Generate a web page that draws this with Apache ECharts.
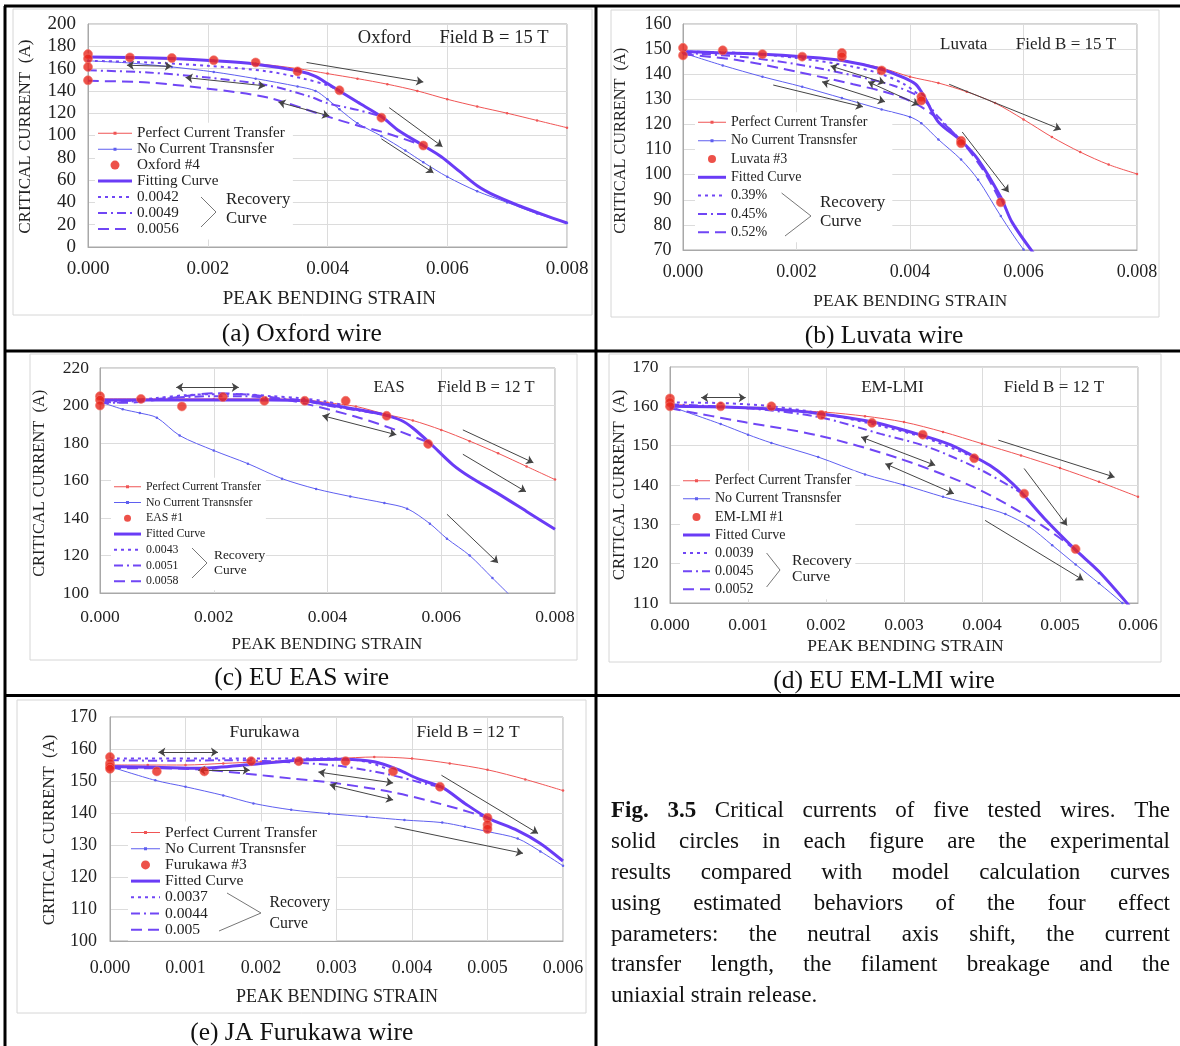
<!DOCTYPE html>
<html><head><meta charset="utf-8">
<script src="https://cdn.jsdelivr.net/npm/echarts@6/dist/echarts.min.js"></script>
<style>html,body{margin:0;padding:0;background:#fff}#c{width:1180px;height:1046px}</style>
</head><body><div id="c"></div><script>
const FONT = "'Liberation Serif','Times New Roman',serif";

// ---------------- (a) Oxford ----------------
const aLegend = ['Perfect Current Transfer','No Current Transnsfer','Oxford #4','Fitting Curve','0.0042','0.0049','0.0056'];
const aPerfect = [[0,170],[0.0007,169.5],[0.0014,168.5],[0.0021,167],[0.0028,164.5],[0.0035,160],[0.004,155.5],[0.0045,151],[0.005,146],[0.0055,140],[0.006,132.5],[0.0065,126],[0.007,120],[0.0075,113.5],[0.008,107]];
const aNoTransfer = [[0,167],[0.0007,165],[0.0014,161.5],[0.0021,157],[0.0028,151],[0.0035,144],[0.0038,140],[0.004,132.5],[0.0042,123.5],[0.0045,111],[0.0049,99.5],[0.0053,86.5],[0.0056,76],[0.006,63],[0.0065,50],[0.007,40],[0.0075,30],[0.008,21.5]];
const aFit = [[0,170.5],[0.0007,170],[0.0014,169],[0.0021,167],[0.0028,164],[0.0035,158],[0.0038,153],[0.004,146.5],[0.0042,140],[0.0045,130],[0.0049,117],[0.0052,104],[0.0056,91],[0.0059,81],[0.0062,68],[0.0065,55],[0.0068,46],[0.0072,37],[0.0076,29],[0.008,21.5]];
const aRec1 = [[0,167],[0.001,165.5],[0.002,162.5],[0.003,157.5],[0.0036,151],[0.004,145],[0.0042,140]];
const aRec2 = [[0,158.5],[0.001,156.5],[0.002,152],[0.003,145],[0.0037,135],[0.004,129],[0.0045,123],[0.0049,117]];
const aRec3 = [[0,149],[0.001,147.5],[0.002,142],[0.003,134],[0.004,117],[0.0045,109],[0.0049,103.5],[0.0056,91]];
const aData = [[0,173],[0,169],[0,161.5],[0,149.5],[0.0007,170],[0.0014,169.5],[0.0021,167.5],[0.0028,165.5],[0.0035,157.5],[0.0042,140.5],[0.0049,116],[0.0056,91]];
const aArrows = [[0.00365,165.5,0.0056,148,0],[0.00065,163,0.0014,162,1],[0.00163,152,0.00296,144.5,1],[0.00318,130,0.00403,117.5,1],[0.00503,125,0.00592,90,0],[0.0049,97,0.00577,66.5,0]];

// ---------------- (b) Luvata ----------------
const bLegend = ['Perfect Current Transfer','No Current Transnsfer','Luvata #3','Fitted Curve','0.39%','0.45%','0.52%'];
const bPerfect = [[0,149],[0.0007,148.5],[0.0014,148],[0.0021,147],[0.0028,145.5],[0.0035,142.5],[0.004,139],[0.0045,136.5],[0.005,133],[0.0055,128.5],[0.006,122],[0.0065,115],[0.007,109],[0.0075,104],[0.008,100.3]];
const bNoTransfer = [[0,148.5],[0.0007,143.5],[0.0014,139],[0.0021,135],[0.0028,130.5],[0.0035,126],[0.004,123],[0.0042,120.5],[0.0045,114],[0.0049,106],[0.0052,98],[0.0056,83.5],[0.006,70.2],[0.0062,66]];
const bFit = [[0,149],[0.0007,148.5],[0.0014,148],[0.0021,147],[0.0028,145.5],[0.0035,142],[0.0039,138.5],[0.0041,136],[0.0042,133],[0.0043,129],[0.0045,121],[0.0049,113.5],[0.0052,106],[0.0056,91],[0.0058,81],[0.0062,68]];
const bRec1 = [[0,149],[0.001,148.5],[0.002,146.5],[0.003,143],[0.0035,140],[0.0039,136],[0.0042,131]];
const bRec2 = [[0,148.5],[0.001,147],[0.002,144],[0.003,139.5],[0.0037,135.5],[0.0042,130.5],[0.0045,123],[0.0049,113.5]];
const bRec3 = [[0,148],[0.001,145.5],[0.002,141],[0.003,136],[0.0037,132],[0.0042,127],[0.0048,116],[0.0053,101.5],[0.0056,89]];
const bData = [[0,150.5],[0,147.5],[0.0007,149.5],[0.0014,148],[0.0021,147],[0.0028,148.5],[0.0028,147],[0.0035,141.5],[0.0042,131],[0.0042,129.5],[0.0049,113.5],[0.0049,112.5],[0.0056,89]];
const bArrows = [[0.00469,136,0.00666,118,0],[0.00492,117,0.00574,93,0],[0.0026,143.3,0.00356,136.5,1],[0.00326,137,0.00416,127.8,1],[0.00245,137,0.00356,129,1],[0.00159,135.7,0.00317,127,0]];

// ---------------- (c) EAS ----------------
const cLegend = ['Perfect Current Transfer','No Current Transnsfer','EAS #1','Fitted Curve','0.0043','0.0051','0.0058'];
const cPerfect = [[0,203.5],[0.001,203.5],[0.002,203.5],[0.003,203.5],[0.0036,203],[0.004,201.5],[0.0045,199.5],[0.005,195.5],[0.0055,192],[0.006,187],[0.0065,181],[0.007,174.5],[0.0075,167.5],[0.008,160.5]];
const cNoTransfer = [[0,202],[0.0004,198],[0.0007,196],[0.001,193.5],[0.0014,184],[0.002,176],[0.0026,169],[0.0032,161],[0.0038,155.5],[0.0044,151.5],[0.005,148],[0.0054,145],[0.0058,137],[0.0061,129],[0.0065,120],[0.0069,108],[0.0072,99]];
const cFit = [[0,203],[0.001,203],[0.002,203],[0.003,203],[0.0036,202.5],[0.004,200.5],[0.0045,198],[0.005,195],[0.0053,192],[0.0055,188],[0.0058,180],[0.0062,168.5],[0.0065,162],[0.007,153],[0.0075,143.5],[0.008,134]];
const cRec1 = [[0,202],[0.0005,202.5],[0.001,204],[0.0015,205.5],[0.002,206],[0.0025,206],[0.003,205],[0.0035,204],[0.004,202],[0.0043,200]];
const cRec2 = [[0,201],[0.0005,202],[0.001,203.5],[0.0015,204.5],[0.002,205],[0.0025,205],[0.003,204],[0.0035,203],[0.004,200],[0.0045,197.5],[0.0051,194.5]];
const cRec3 = [[0,202],[0.0005,201.5],[0.001,203],[0.0015,205],[0.002,206.5],[0.0025,206],[0.003,204.5],[0.0036,201],[0.0045,194],[0.0052,187],[0.0058,180]];
const cData = [[0,205],[0,203],[0,200],[0.00072,203.5],[0.00144,199.5],[0.00216,204.5],[0.00289,202.5],[0.0036,202.5],[0.00432,202.5],[0.00504,194.5],[0.00577,179.5]];
const cArrows = [[0.00638,187,0.00762,169.5,0],[0.00638,174,0.00749,154,0],[0.0061,142,0.007,116,0],[0.00134,209.7,0.00244,209.7,1],[0.00391,194.6,0.00521,184.4,1]];

// ---------------- (d) EM-LMI ----------------
const dLegend = ['Perfect Current Transfer','No Current Transnsfer','EM-LMI #1','Fitted Curve','0.0039','0.0045','0.0052'];
const dPerfect = [[0,160.5],[0.0005,160],[0.001,159.5],[0.0015,159],[0.002,158.5],[0.0025,157.5],[0.003,156],[0.0035,153.5],[0.004,150.5],[0.0045,147.5],[0.005,144.3],[0.0055,140.8],[0.006,137]];
const dNoTransfer = [[0,160],[0.00065,155.5],[0.001,152.8],[0.0013,150.7],[0.0019,147.1],[0.0025,142.7],[0.003,140],[0.0035,137],[0.004,134.4],[0.0043,132.6],[0.0046,129.5],[0.0049,124.7],[0.0052,119.8],[0.0055,115],[0.0058,110],[0.0059,108]];
const dFit = [[0,160],[0.0007,159.8],[0.0013,159.3],[0.0019,158.2],[0.0026,156],[0.0032,152.8],[0.0036,150.2],[0.0039,147.2],[0.0041,145],[0.0043,142],[0.0045,138.2],[0.0048,131.5],[0.0052,123.5],[0.0055,118],[0.0059,109]];
const dRec1 = [[0,161],[0.0007,160.8],[0.0013,160],[0.002,158],[0.0027,155],[0.0033,151.8],[0.0039,147]];
const dRec2 = [[0,160.5],[0.001,159.5],[0.0019,157.3],[0.0027,153],[0.0033,149.7],[0.004,143.7],[0.0045,138]];
const dRec3 = [[0,159.5],[0.00095,156],[0.0019,152.6],[0.0029,147],[0.0038,140.3],[0.0043,135.3],[0.0048,129.3],[0.0052,123.5]];
const dData = [[0,162],[0,161],[0,160],[0.00065,160],[0.0013,160],[0.00194,157.8],[0.00259,155.8],[0.00324,152.8],[0.0039,146.8],[0.00454,137.8],[0.0052,123.7]];
const dArrows = [[0.0004,162.2,0.00097,162.2,1],[0.00421,151.4,0.0057,142,0],[0.00454,144.2,0.00509,129.7,0],[0.00404,131,0.0053,115.8,0],[0.00245,152.2,0.0034,145,1],[0.00276,145.4,0.00364,137.8,1]];

// ---------------- (e) Furukawa ----------------
const eLegend = ['Perfect Current Transfer','No Current Transnsfer','Furukawa #3','Fitted Curve','0.0037','0.0044','0.005'];
const ePerfect = [[0,155],[0.0005,155],[0.001,155],[0.0015,155.5],[0.002,156],[0.0025,156.5],[0.003,157],[0.0035,157.5],[0.004,157],[0.0045,155.5],[0.005,153.5],[0.0055,150.5],[0.006,147]];
const eNoTransfer = [[0,154.5],[0.0006,150.2],[0.001,148.2],[0.0015,145.5],[0.0019,143],[0.0024,141],[0.0029,139.8],[0.0034,138.8],[0.0039,137.8],[0.0044,137],[0.0047,135.7],[0.005,134.2],[0.0054,132],[0.0057,128],[0.006,123.5]];
const eFit = [[0,154.5],[0.0006,154.3],[0.0012,154],[0.0019,155.2],[0.0025,156.5],[0.0031,156.8],[0.0035,156],[0.0038,153.7],[0.0041,150.5],[0.0044,148],[0.0047,143],[0.005,138.5],[0.0054,134.5],[0.0057,130.5],[0.006,125]];
const eRec1 = [[0,157],[0.0008,157],[0.0016,157],[0.0024,157],[0.003,157],[0.0034,156],[0.0037,153.5]];
const eRec2 = [[0,156.5],[0.0008,156.3],[0.0016,156.5],[0.0025,155.7],[0.0031,154.5],[0.0037,152],[0.0042,149],[0.0044,148]];
const eRec3 = [[0,154],[0.0006,154],[0.0012,153.6],[0.0018,152.3],[0.0024,150.8],[0.003,149.3],[0.0038,146.2],[0.0046,141.4],[0.005,138.5]];
const eData = [[0,157.5],[0,155.5],[0,154.5],[0,153.8],[0.00062,153],[0.00125,153],[0.00187,156.2],[0.0025,156.2],[0.00312,156.2],[0.00375,153],[0.00437,148.2],[0.005,138.5],[0.005,136.3],[0.005,135]];
const eArrows = [[0.00064,159,0.00143,159,1],[0.00117,153.4,0.00185,153.4,1],[0.00276,152.8,0.00375,149.4,1],[0.00291,148.8,0.00375,144.1,1],[0.00439,151.8,0.00567,133.6,0],[0.00377,135.7,0.00547,127.4,0]];

// ---------------- axes ----------------
const aXAxis = [0, 0.008, 0.002]; const aYAxis = [0, 200, 20];
const bXAxis = [0, 0.008, 0.002]; const bYAxis = [70, 160, 10];
const cXAxis = [0, 0.008, 0.002]; const cYAxis = [100, 220, 20];
const dXAxis = [0, 0.006, 0.001]; const dYAxis = [110, 170, 10];
const eXAxis = [0, 0.006, 0.001]; const eYAxis = [100, 170, 10];

const captionLines = [
  'Fig. 3.5 Critical currents of five tested wires. The',
  'solid circles in each figure are the experimental',
  'results compared with model calculation curves',
  'using estimated behaviors of the four effect',
  'parameters: the neutral axis shift, the current',
  'transfer length, the filament breakage and the',
  'uniaxial strain release.'
];

// ---------------- layout (positions / styles) ----------------
const panels = [
  {k:'a', legend:aLegend, perfect:aPerfect, none:aNoTransfer, fit:aFit, rec:[aRec1,aRec2,aRec3], pts:aData, arrows:aArrows, xr:aXAxis, yr:aYAxis,
   grid:[88,24,479,223], tfs:19, xm:13, ym:12,
   lg:{icon:98, iw:34, first:133.3, sp:16.15, fs:15.2, padR:8, dot:4.5},
   bracket:[[201,197],[216,212],[201,227]], recT:{x:226,y1:200,y2:218.3,fs:16.8},
   title:{t:'Oxford', x:384.5, y:38.3, fx:494, f:'Field B = 15 T', fs:18.5},
   xt:{x:329.4,y:299.3,fs:19}, yt:{x:25.8,y:136.7,fs:17},
   frame:[13,9,592,315], cap:{t:'(a) Oxford wire', x:301.7, y:334.3}},
  {k:'b', legend:bLegend, perfect:bPerfect, none:bNoTransfer, fit:bFit, rec:[bRec1,bRec2,bRec3], pts:bData, arrows:bArrows, xr:bXAxis, yr:bYAxis,
   grid:[683,24,454,226], tfs:18, xm:13.7, ym:11.5,
   lg:{icon:698, iw:28, first:122.3, sp:18.33, fs:14, padR:25, dot:4},
   bracket:[[781.6,193],[811,216],[785,236]], recT:{x:820,y1:202.7,y2:221.7,fs:17},
   title:{t:'Luvata', x:963.7, y:45, fx:1066, f:'Field B = 15 T', fs:17},
   xt:{x:910.3,y:301.7,fs:17.3}, yt:{x:620.4,y:140.8,fs:16.3},
   frame:[611,10,1159,317], cap:{t:'(b) Luvata wire', x:884, y:336.7}},
  {k:'c', legend:cLegend, perfect:cPerfect, none:cNoTransfer, fit:cFit, rec:[cRec1,cRec2,cRec3], pts:cData, arrows:cArrows, xr:cXAxis, yr:cYAxis,
   grid:[100,368,455,225], tfs:17.5, xm:15, ym:11,
   lg:{icon:114, iw:27, first:486.7, sp:15.55, fs:11.8, padR:5, dot:3.5},
   bracket:[[192,548],[207,563],[192,578]], recT:{x:214,y1:555,y2:570,fs:13.4},
   title:{t:'EAS', x:389, y:387.7, fx:486, f:'Field B = 12 T', fs:16.5},
   xt:{x:327,y:645,fs:17}, yt:{x:40,y:483.3,fs:16.4},
   frame:[30,354,577,660], cap:{t:'(c) EU EAS wire', x:301.7, y:678.3}},
  {k:'d', legend:dLegend, perfect:dPerfect, none:dNoTransfer, fit:dFit, rec:[dRec1,dRec2,dRec3], pts:dData, arrows:dArrows, xr:dXAxis, yr:dYAxis,
   grid:[670,367,468,236], tfs:17.5, xm:13.3, ym:11.6,
   lg:{icon:683, iw:27, first:480.7, sp:18.1, fs:14, padR:4, dot:4},
   bracket:[[766.6,553],[780,570],[766.6,587]], recT:{x:792,y1:561,y2:576.7,fs:15.6},
   title:{t:'EM-LMI', x:892.4, y:387.3, fx:1054, f:'Field B = 12 T', fs:17},
   xt:{x:905.4,y:646.7,fs:17.5}, yt:{x:619.3,y:485,fs:16.7},
   frame:[609,354,1161,662], cap:{t:'(d) EU EM-LMI wire', x:884, y:681.7}},
  {k:'e', legend:eLegend, perfect:ePerfect, none:eNoTransfer, fit:eFit, rec:[eRec1,eRec2,eRec3], pts:eData, arrows:eArrows, xr:eXAxis, yr:eYAxis,
   grid:[110,717,453,224], tfs:18, xm:18.3, ym:13,
   lg:{icon:131, iw:29, first:832.3, sp:15.8, fs:15.6, padR:19, dot:4.5},
   bracket:[[227,893],[261,913],[219,931]], recT:{x:269.5,y1:903.3,y2:924.3,fs:15.8},
   title:{t:'Furukawa', x:264.5, y:732.3, fx:468, f:'Field B = 12 T', fs:17.5},
   xt:{x:337,y:997.7,fs:18}, yt:{x:49.3,y:830,fs:16.7},
   frame:[17,700,586,1013], cap:{t:'(e) JA Furukawa wire', x:301.7, y:1033.3}}
];

const RED_L = '#f05555', BLUE_T = '#5f5ff0', FIT = '#6a3cf6', REC = '#7046f5', DOT = '#e8261c';
const DASH = {dot:[3,4], dashdot:[9,4,2,4], dash:[11,6]};
const recTypes = ['dot','dashdot','dash'];

function rect(x,y,w,h){return `M${x},${y}L${x+w},${y}L${x+w},${y+h}L${x},${y+h}Z `;}
function anchor(W,H){return `M0,0L0,0M${W},${H}L${W},${H} `;}
function patternIcon(W,H,pat,th){
  let s = anchor(W,H), x = 0, i = 0;
  while (x < W) {
    const len = pat[i % pat.length];
    if (i % 2 === 0) s += rect(x, H/2 - th/2, Math.min(len, W - x), th);
    x += len; i++;
  }
  return 'path://' + s;
}
function thinIcon(W,H){return 'path://' + anchor(W,H) + rect(0,H/2-0.5,W,1) + rect(W/2-1.5,H/2-1.5,3,3);}
function thickIcon(W,H){return 'path://' + anchor(W,H) + rect(0,H/2-1.5,W,3);}
function dotIcon(W,H,r){const cx=W/2, cy=H/2; return 'path://' + anchor(W,H) + `M${cx-r},${cy}A${r},${r} 0 1,0 ${cx+r},${cy}A${r},${r} 0 1,0 ${cx-r},${cy}Z`;}

const grids = [], xAxes = [], yAxes = [], legends = [], series = [], elements = [];

panels.forEach((p,i)=>{
  grids.push({left:p.grid[0], top:p.grid[1], width:p.grid[2], height:p.grid[3], show:true, borderColor:'#a8a8a8', borderWidth:1, backgroundColor:'#fff'});
  xAxes.push({type:'value', gridIndex:i, min:p.xr[0], max:p.xr[1], interval:p.xr[2],
    axisLine:{show:true, lineStyle:{color:'#a8a8a8'}}, axisTick:{show:false},
    splitLine:{show:true, lineStyle:{color:'#dcdcdc', width:1}},
    axisLabel:{fontFamily:FONT, fontSize:p.tfs, color:'#222', margin:p.xm, formatter:v=>v.toFixed(3), showMinLabel:true, showMaxLabel:true}});
  yAxes.push({type:'value', gridIndex:i, min:p.yr[0], max:p.yr[1], interval:p.yr[2],
    axisLine:{show:true, lineStyle:{color:'#a8a8a8'}}, axisTick:{show:false},
    splitLine:{show:true, lineStyle:{color:'#dcdcdc', width:1}},
    axisLabel:{fontFamily:FONT, fontSize:p.tfs, color:'#222', margin:p.ym, formatter:v=>String(Math.round(v)), showMinLabel:true, showMaxLabel:true}});

  const L = p.legend, k = p.k, W = p.lg.iw, H = 10;
  const nm = j => k + '|' + L[j];
  legends.push({
    left:p.lg.icon - 3, top:p.lg.first - p.lg.fs/2 - 3, orient:'vertical', itemWidth:W, itemHeight:H, itemGap:Math.max(0, p.lg.sp - p.lg.fs),
    padding:[3, p.lg.padR, 3, 3], backgroundColor:'#fff', selectedMode:false, z:4,
    textStyle:{fontFamily:FONT, fontSize:p.lg.fs, color:'#222'},
    formatter:n=>n.split('|')[1], itemStyle:{borderWidth:0},
    data:[
      {name:nm(0), icon:thinIcon(W,H), itemStyle:{color:RED_L, borderWidth:0}},
      {name:nm(1), icon:thinIcon(W,H), itemStyle:{color:BLUE_T, borderWidth:0}},
      {name:nm(2), icon:dotIcon(W,H,p.lg.dot), itemStyle:{color:DOT, borderWidth:0}},
      {name:nm(3), icon:thickIcon(W,H), itemStyle:{color:FIT, borderWidth:0}},
      {name:nm(4), icon:patternIcon(W,H,DASH.dot,2), itemStyle:{color:REC, borderWidth:0}},
      {name:nm(5), icon:patternIcon(W,H,DASH.dashdot,2), itemStyle:{color:REC, borderWidth:0}},
      {name:nm(6), icon:patternIcon(W,H,DASH.dash,2), itemStyle:{color:REC, borderWidth:0}}
    ]
  });

  const base = {xAxisIndex:i, yAxisIndex:i, silent:true, animation:false};
  series.push(Object.assign({}, base, {name:nm(0), type:'line', data:p.perfect, smooth:0.3,
    symbol:'circle', symbolSize:2.5, showSymbol:true, lineStyle:{color:RED_L, width:1}, itemStyle:{color:RED_L}, z:2,
    markLine:{silent:true, animation:false, symbolSize:7, label:{show:false}, emphasis:{disabled:true},
      lineStyle:{color:'#444', width:1, type:'solid'},
      data:p.arrows.map(a=>[{coord:[a[0],a[1]], symbol:a[4]?'arrow':'none'},{coord:[a[2],a[3]], symbol:'arrow'}])}}));
  series.push(Object.assign({}, base, {name:nm(1), type:'line', data:p.none, smooth:0.3,
    symbol:'circle', symbolSize:2.5, showSymbol:true, lineStyle:{color:BLUE_T, width:1}, itemStyle:{color:BLUE_T}, z:2}));
  [2,1,0].forEach(r=>{
    series.push(Object.assign({}, base, {name:nm(4+r), type:'line', data:p.rec[r], smooth:0.3,
      symbol:'none', lineStyle:{color:REC, width:2, type:DASH[recTypes[r]]}, itemStyle:{color:REC}, z:3}));
  });
  series.push(Object.assign({}, base, {name:nm(3), type:'line', data:p.fit, smooth:0.3,
    symbol:'none', lineStyle:{color:FIT, width:3}, itemStyle:{color:FIT}, z:4}));
  series.push(Object.assign({}, base, {name:nm(2), type:'scatter', data:p.pts, symbol:'circle', symbolSize:9,
    itemStyle:{color:DOT, borderColor:'#f2766b', borderWidth:0.8}, z:6}));

  const fr = p.frame;
  elements.push({type:'rect', shape:{x:fr[0], y:fr[1], width:fr[2]-fr[0], height:fr[3]-fr[1]}, style:{fill:null, stroke:'#d6d6d6', lineWidth:1}, z:1, silent:true});
  elements.push({type:'polyline', shape:{points:p.bracket}, style:{stroke:'#777', lineWidth:1, fill:null}, z:100, silent:true});
  elements.push({type:'text', x:p.recT.x, y:p.recT.y1, z:100, silent:true, style:{text:'Recovery', font:`${p.recT.fs}px ${FONT}`, fill:'#222', textAlign:'left', textVerticalAlign:'middle'}});
  elements.push({type:'text', x:p.recT.x, y:p.recT.y2, z:100, silent:true, style:{text:'Curve', font:`${p.recT.fs}px ${FONT}`, fill:'#222', textAlign:'left', textVerticalAlign:'middle'}});
  elements.push({type:'text', x:p.title.x, y:p.title.y, z:100, silent:true, style:{text:p.title.t, font:`${p.title.fs}px ${FONT}`, fill:'#222', textAlign:'center', textVerticalAlign:'middle'}});
  elements.push({type:'text', x:p.title.fx, y:p.title.y, z:100, silent:true, style:{text:p.title.f, font:`${p.title.fs}px ${FONT}`, fill:'#222', textAlign:'center', textVerticalAlign:'middle'}});
  elements.push({type:'text', x:p.xt.x, y:p.xt.y, z:100, silent:true, style:{text:'PEAK BENDING STRAIN', font:`${p.xt.fs}px ${FONT}`, fill:'#222', textAlign:'center', textVerticalAlign:'middle'}});
  elements.push({type:'text', x:p.yt.x, y:p.yt.y, rotation:Math.PI/2, z:100, silent:true, style:{text:'CRITICAL CURRENT  (A)', font:`${p.yt.fs}px ${FONT}`, fill:'#222', textAlign:'center', textVerticalAlign:'middle'}});
  elements.push({type:'text', x:p.cap.x, y:p.cap.y, z:100, silent:true, style:{text:p.cap.t, font:`25.5px ${FONT}`, fill:'#111', textAlign:'center', textVerticalAlign:'middle'}});
});

[[4,6,1180,6],[5,6,5,1046],[596,6,596,1046],[4,351,1180,351],[4,695.5,1180,695.5]].forEach(l=>{
  elements.push({type:'line', shape:{x1:l[0],y1:l[1],x2:l[2],y2:l[3]}, style:{stroke:'#000', lineWidth:3}, z:200, silent:true});
});

const capFont = `23px ${FONT}`, capBold = `bold 23px ${FONT}`;
const capY = [811, 842, 873, 904, 934.5, 965, 996];
const cvs = document.createElement('canvas').getContext('2d');
function tw(t,f){cvs.font=f; return cvs.measureText(t).width;}
captionLines.forEach((line,li)=>{
  const words = line.split(' ');
  const fonts = words.map((w,wi)=>(li===0 && wi<2) ? capBold : capFont);
  const widths = words.map((w,wi)=>tw(w,fonts[wi]));
  const sum = widths.reduce((s,v)=>s+v,0);
  const last = li === captionLines.length-1;
  const gap = last ? tw(' ',capFont) : (1170-611-sum)/(words.length-1);
  let x = 611;
  words.forEach((w,wi)=>{
    elements.push({type:'text', x:x, y:capY[li], z:100, silent:true, style:{text:w, font:fonts[wi], fill:'#111', textAlign:'left', textVerticalAlign:'middle'}});
    x += widths[wi] + gap;
  });
});

const chart = echarts.init(document.getElementById('c'), null, {renderer:'canvas'});
chart.setOption({
  backgroundColor:'#fff', animation:false,
  textStyle:{fontFamily:FONT},
  grid:grids, xAxis:xAxes, yAxis:yAxes, legend:legends, series:series,
  graphic:{elements:elements}
});
</script></body></html>
